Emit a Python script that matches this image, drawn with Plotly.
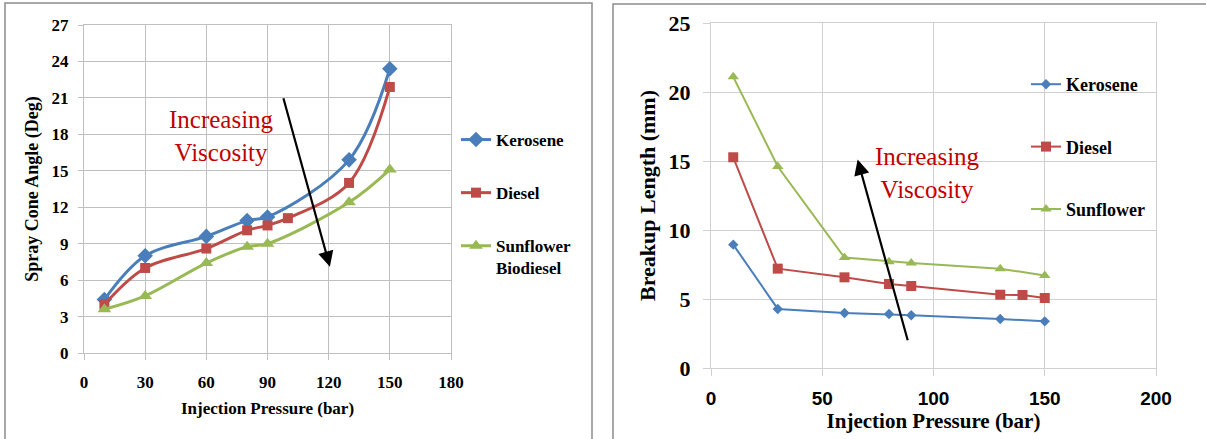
import plotly.graph_objects as go

# ---------------- data ----------------
# Left chart: spray cone angle (deg) vs injection pressure (bar)
p_ker_l = [10, 30, 60, 80, 90, 130, 150]
ker_angle = [4.4, 8.0, 9.6, 10.9, 11.2, 15.9, 23.4]
p_die_l = [10, 30, 60, 80, 90, 100, 130, 150]
die_angle = [4.0, 7.0, 8.6, 10.1, 10.5, 11.1, 14.0, 21.9]
p_sun_l = [10, 30, 60, 80, 90, 130, 150]
sun_angle = [3.6, 4.7, 7.4, 8.75, 9.0, 12.4, 15.1]

# Right chart: breakup length (mm) vs injection pressure (bar)
p_ker_r = [10, 30, 60, 80, 90, 130, 150]
ker_break = [8.94, 4.28, 3.99, 3.91, 3.82, 3.55, 3.38]
p_die_r = [10, 30, 60, 80, 90, 130, 140, 150]
die_break = [15.27, 7.2, 6.57, 6.09, 5.94, 5.31, 5.29, 5.07]
p_sun_r = [10, 30, 60, 80, 90, 130, 150]
sun_break = [21.1, 14.6, 8.0, 7.7, 7.6, 7.2, 6.7]

left_x_ticks = [0, 30, 60, 90, 120, 150, 180]
left_y_ticks = [0, 3, 6, 9, 12, 15, 18, 21, 24, 27]
right_x_ticks = [0, 50, 100, 150, 200]
right_y_ticks = [0, 5, 10, 15, 20, 25]

BLUE = "#4A7EBB"
RED = "#BE4B48"
GREEN = "#98B954"
SERIF = "Liberation Serif"
W, H = 1206, 439

fig = go.Figure()

# left traces
fig.add_trace(go.Scatter(x=p_ker_l, y=ker_angle, name="Kerosene", mode="lines+markers",
                         line=dict(color=BLUE, width=3, shape="spline", smoothing=1),
                         marker=dict(symbol="diamond", size=12, color=BLUE),
                         xaxis="x", yaxis="y", legend="legend", legendgroup="k"))
fig.add_trace(go.Scatter(x=p_die_l, y=die_angle, name="Diesel", mode="lines+markers",
                         line=dict(color=RED, width=3, shape="spline", smoothing=1),
                         marker=dict(symbol="square", size=10, color=RED),
                         xaxis="x", yaxis="y", legend="legend", legendgroup="d"))
fig.add_trace(go.Scatter(x=p_sun_l, y=sun_angle, name="Sunflower<br>Biodiesel", mode="lines+markers",
                         line=dict(color=GREEN, width=3, shape="spline", smoothing=1),
                         marker=dict(symbol="triangle-up", size=12, color=GREEN),
                         xaxis="x", yaxis="y", legend="legend", legendgroup="s"))

# right traces
fig.add_trace(go.Scatter(x=p_ker_r, y=ker_break, name="Kerosene", mode="lines+markers",
                         line=dict(color=BLUE, width=2),
                         marker=dict(symbol="diamond", size=8, color=BLUE),
                         xaxis="x2", yaxis="y2", legend="legend2", legendgroup="k2"))
fig.add_trace(go.Scatter(x=p_die_r, y=die_break, name="Diesel", mode="lines+markers",
                         line=dict(color=RED, width=2),
                         marker=dict(symbol="square", size=10, color=RED),
                         xaxis="x2", yaxis="y2", legend="legend2", legendgroup="d2"))
fig.add_trace(go.Scatter(x=p_sun_r, y=sun_break, name="Sunflower", mode="lines+markers",
                         line=dict(color=GREEN, width=2),
                         marker=dict(symbol="triangle-up", size=10, color=GREEN),
                         xaxis="x2", yaxis="y2", legend="legend2", legendgroup="s2"))

GRID_L = "#BFBFBF"
GRID_R = "#D0D0D0"

axis_common = dict(showgrid=True, zeroline=False, showline=True, mirror=True,
                   ticks="outside", fixedrange=True, automargin=False)

fig.update_layout(
    width=W, height=H, autosize=False,
    margin=dict(l=0, r=0, t=0, b=0, pad=0, autoexpand=False),
    paper_bgcolor="white", plot_bgcolor="white",
    xaxis=dict(domain=[84 / W, 451 / W], range=[0, 180], tickvals=left_x_ticks,
               gridcolor=GRID_L, linecolor=GRID_L, tickcolor=GRID_L, ticklen=6,
               tickfont=dict(family=SERIF, size=17, color="black", weight="bold"),
               ticklabelstandoff=8,
               title=dict(text="<b>Injection Pressure (bar)</b>", standoff=10,
                          font=dict(family=SERIF, size=17, color="black")),
               anchor="y", **axis_common),
    yaxis=dict(domain=[(H - 353) / H, (H - 25) / H], range=[0, 27], tickvals=left_y_ticks,
               gridcolor=GRID_L, linecolor=GRID_L, tickcolor=GRID_L, ticklen=5,
               tickfont=dict(family=SERIF, size=17, color="black", weight="bold"),
               ticklabelstandoff=6,
               title=dict(text="<b>Spray Cone Angle (Deg)</b>", standoff=8,
                          font=dict(family=SERIF, size=18, color="black")),
               anchor="x", **axis_common),
    xaxis2=dict(domain=[711 / W, 1156 / W], range=[0, 200], tickvals=right_x_ticks,
                gridcolor=GRID_R, linecolor=GRID_R, tickcolor=GRID_R, ticklen=7,
                tickfont=dict(family="Liberation Sans", size=19, color="black", weight="bold"),
                ticklabelstandoff=6,
                title=dict(text="<b>Injection Pressure (bar)</b>", standoff=4,
                           font=dict(family=SERIF, size=21, color="black")),
                anchor="y2", **axis_common),
    yaxis2=dict(domain=[(H - 368) / H, (H - 23) / H], range=[0, 25], tickvals=right_y_ticks,
                gridcolor=GRID_R, linecolor=GRID_R, tickcolor=GRID_R, ticklen=7,
                tickfont=dict(family=SERIF, size=22, color="black", weight="bold"),
                ticklabelstandoff=8,
                title=dict(text="<b>Breakup Length (mm)</b>", standoff=6,
                           font=dict(family=SERIF, size=22, color="black")),
                anchor="x2", **axis_common),
    legend=dict(x=456 / W, xanchor="left", y=(H - 122) / H, yanchor="top",
                font=dict(family=SERIF, size=17, color="black", weight="bold"),
                itemwidth=30, tracegroupgap=28, valign="top",
                bgcolor="rgba(0,0,0,0)"),
    legend2=dict(x=1026 / W, xanchor="left", y=(H - 66) / H, yanchor="top",
                 font=dict(family=SERIF, size=18, color="black", weight="bold"),
                 itemwidth=30, tracegroupgap=36,
                 bgcolor="rgba(0,0,0,0)"),
    showlegend=True,
)

# frames around each panel
fig.add_shape(type="rect", xref="paper", yref="paper",
              x0=5 / W, x1=592 / W, y0=-0.2, y1=(H - 3) / H,
              line=dict(color="#8C8C8C", width=1.5), layer="below")
fig.add_shape(type="rect", xref="paper", yref="paper",
              x0=613 / W, x1=1.2, y0=-0.2, y1=(H - 4) / H,
              line=dict(color="#8C8C8C", width=1.5), layer="below")

# annotations: text + arrows
fig.add_annotation(x=67.2, y=17.9, xref="x", yref="y", showarrow=False,
                   text="Increasing<br>Viscosity",
                   font=dict(family=SERIF, size=25, color="#C00000"))
fig.add_annotation(x=120.6, y=7.1, ax=97.6, ay=21.1, xref="x", yref="y",
                   axref="x", ayref="y", text="", showarrow=True,
                   arrowhead=2, arrowsize=1.4, arrowwidth=2.2, arrowcolor="black")

fig.add_annotation(x=97.3, y=14.1, xref="x2", yref="y2", showarrow=False,
                   text="Increasing<br>Viscosity",
                   font=dict(family=SERIF, size=25, color="#C00000"))
fig.add_annotation(x=65.9, y=15.1, ax=88.6, ay=1.9, xref="x2", yref="y2",
                   axref="x2", ayref="y2", text="", showarrow=True,
                   arrowhead=2, arrowsize=1.4, arrowwidth=2.2, arrowcolor="black")

fig.write_html("out.html", config={"displayModeBar": False},
               post_script="document.body.style.margin='0';")
